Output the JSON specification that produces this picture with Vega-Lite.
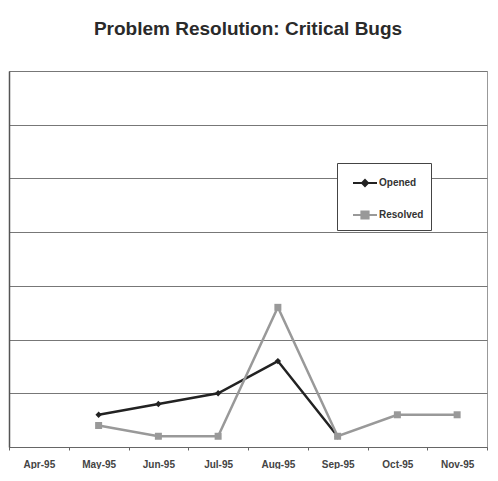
{
  "$schema": "https://vega.github.io/schema/vega-lite/v6.json",
  "width": 478,
  "height": 376,
  "padding": {"left": 8, "top": 20, "right": 12, "bottom": 0},
  "background": "white",
  "title": {
    "text": "Problem Resolution: Critical Bugs",
    "font": "Liberation Sans",
    "fontSize": 19,
    "fontWeight": "bold",
    "color": "#2a2a2a",
    "anchor": "middle",
    "offset": 32
  },
  "config": {
    "view": {"stroke": "#999", "strokeWidth": 1},
    "font": "Liberation Sans"
  },
  "data": {
    "values": [
      {"month": "May-95", "series": "Opened", "value": 3},
      {"month": "Jun-95", "series": "Opened", "value": 4},
      {"month": "Jul-95", "series": "Opened", "value": 5},
      {"month": "Aug-95", "series": "Opened", "value": 8},
      {"month": "Sep-95", "series": "Opened", "value": 1},
      {"month": "May-95", "series": "Resolved", "value": 2},
      {"month": "Jun-95", "series": "Resolved", "value": 1},
      {"month": "Jul-95", "series": "Resolved", "value": 1},
      {"month": "Aug-95", "series": "Resolved", "value": 13},
      {"month": "Sep-95", "series": "Resolved", "value": 1},
      {"month": "Oct-95", "series": "Resolved", "value": 3},
      {"month": "Nov-95", "series": "Resolved", "value": 3}
    ]
  },
  "encoding": {
    "x": {
      "field": "month",
      "type": "ordinal",
      "sort": ["Apr-95", "May-95", "Jun-95", "Jul-95", "Aug-95", "Sep-95", "Oct-95", "Nov-95"],
      "scale": {"domain": ["Apr-95", "May-95", "Jun-95", "Jul-95", "Aug-95", "Sep-95", "Oct-95", "Nov-95"], "paddingInner": 0, "paddingOuter": 0},
      "axis": {
        "title": null,
        "labelAngle": 0,
        "labelFont": "Liberation Sans",
        "labelFontSize": 10,
        "labelFontWeight": "bold",
        "labelColor": "#444",
        "labelPadding": 9,
        "tickBand": "extent",
        "tickSize": 3,
        "tickColor": "#666",
        "domainColor": "#666",
        "grid": false
      }
    },
    "y": {
      "field": "value",
      "type": "quantitative",
      "scale": {"domain": [0, 35], "nice": false},
      "axis": {
        "title": null,
        "values": [0, 5, 10, 15, 20, 25, 30, 35],
        "labels": false,
        "ticks": false,
        "grid": true,
        "gridColor": "#777",
        "gridWidth": 1,
        "domainColor": "#555",
        "domainWidth": 1.5
      }
    }
  },
  "resolve": {"scale": {"color": "independent"}, "legend": {"color": "independent"}},
  "layer": [
    {
      "mark": {"type": "line", "strokeWidth": 2.5},
      "encoding": {
        "color": {
          "field": "series",
          "type": "nominal",
          "scale": {"domain": ["Opened", "Resolved"], "range": ["#222222", "#999999"]},
          "legend": {
            "title": null,
            "orient": "none",
            "legendX": 328,
            "legendY": 92,
            "padding": 7,
            "symbolOffset": 8,
            "strokeColor": "#444",
            "fillColor": "white",
            "symbolSize": 576,
            "symbolStrokeWidth": 2,
            "rowPadding": 12,
            "labelOffset": 1,
            "labelFont": "Liberation Sans",
            "labelFontSize": 10,
            "labelFontWeight": "bold",
            "labelColor": "#333",
            "encode": {
              "symbols": {
                "update": {
                  "shape": {"signal": "datum.value === 'Opened' ? 'M-1,0H1M0,-0.25L0.25,0L0,0.25L-0.25,0Z' : 'M-1,0H1M-0.3,-0.3H0.3V0.3H-0.3Z'"},
                  "fill": {"signal": "datum.value === 'Opened' ? '#222222' : '#999999'"},
                  "stroke": {"signal": "datum.value === 'Opened' ? '#222222' : '#999999'"},
                  "fillOpacity": {"value": 1}
                }
              }
            }
          }
        }
      }
    },
    {
      "mark": {"type": "point", "filled": true, "opacity": 1},
      "encoding": {
        "shape": {
          "field": "series",
          "type": "nominal",
          "scale": {"domain": ["Opened", "Resolved"], "range": ["diamond", "square"]},
          "legend": null
        },
        "size": {
          "field": "series",
          "type": "nominal",
          "scale": {"domain": ["Opened", "Resolved"], "range": [40, 49]},
          "legend": null
        },
        "color": {
          "field": "series",
          "type": "nominal",
          "scale": {"domain": ["Opened", "Resolved"], "range": ["#222222", "#999999"]},
          "legend": null
        }
      }
    }
  ]
}
